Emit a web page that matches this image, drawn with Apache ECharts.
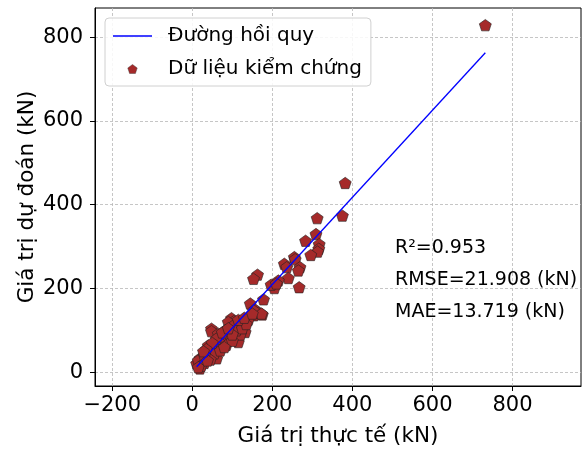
<!DOCTYPE html>
<html>
<head>
<meta charset="utf-8">
<script src="https://cdn.jsdelivr.net/npm/echarts@6/dist/echarts.min.js"></script>
<style>html,body{margin:0;padding:0;background:#fff;}#c{width:587px;height:452px;}</style>
</head>
<body>
<div id="c"></div>
<script>
// Data: actual (x) vs predicted (y), kN
var actualValues = [
  732, 382, 375, 312, 309, 283, 317, 316, 313, 296, 255, 257, 230, 236, 269, 265, 240, 215, 163, 153,
  267, 205, 197, 210, 178, 145, 158, 175, 154, 165, 153, 173,
  98, 104, 122, 111, 90, 124, 48, 82, 48, 65, 132, 107, 82, 115, 57, 40, 65, 32, 61, 19, 11, 19,
  100, 90, 75, 95, 120, 70, 85, 100, 60, 50, 45, 35, 28, 25, 20, 15, 30, 40, 55, 70, 80, 110, 125,
  140, 135, 100, 60, 50, 35, 45, 22, 15, 30, 38, 28, 75, 90, 115, 130, 150
];
var predictedValues = [
  829, 452, 374, 368, 330, 314, 306, 295, 288, 280, 275, 270, 259, 251, 251, 243, 225, 219, 233, 223,
  203, 201, 209, 212, 174, 164, 149, 138, 136, 142, 148, 140,
  129, 122, 118, 116, 120, 108, 104, 100, 98, 92, 96, 84, 80, 72, 72, 64, 56, 45, 33, 33, 21, 9,
  110, 95, 85, 88, 90, 70, 65, 75, 60, 55, 48, 38, 30, 25, 18, 28, 22, 35, 45, 52, 60, 100, 105,
  125, 115, 90, 80, 70, 55, 30, 15, 12, 40, 28, 50, 95, 105, 125, 130, 140
];
// Regression line endpoints
var lineX = [11, 732];
var lineY = [13, 763];
var xTicks = [-200, 0, 200, 400, 600, 800];
var yTicks = [0, 200, 400, 600, 800];
var metrics = ['R\u00B2=0.953', 'RMSE=21.908 (kN)', 'MAE=13.719 (kN)'];

var scatterData = actualValues.map(function (v, i) { return [v, predictedValues[i]]; });
var lineData = lineX.map(function (v, i) { return [v, lineY[i]]; });
var pentagon = 'path://M50 0 L97.55 34.55 L79.39 90.45 L20.61 90.45 L2.45 34.55 Z';
var lineIcon = 'path://M0 0 L40 0 L40 1.3 L0 1.3 Z';
var FONT = 'DejaVu Sans';

var chart = echarts.init(document.getElementById('c'), null, { renderer: 'canvas' });
chart.setOption({
  animation: false,
  backgroundColor: '#fff',
  textStyle: { fontFamily: FONT },
  grid: { left: 95, top: 8, width: 486, height: 380, show: true, borderColor: '#000', borderWidth: 1, containLabel: false },
  legend: {
    left: 105, top: 18, orient: 'vertical',
    padding: [7, 9, 6, 8], itemGap: 11, itemWidth: 39, itemHeight: 9, symbolKeepAspect: true,
    backgroundColor: 'rgba(255,255,255,0.85)', borderColor: '#d0d0d0', borderWidth: 1, borderRadius: 4,
    textStyle: { fontFamily: FONT, fontSize: 20, color: '#000', lineHeight: 22, padding: [0, 0, 0, 11] },
    data: [
      { name: 'Đường hồi quy', icon: lineIcon, itemStyle: { color: '#0000ff', borderWidth: 0 } },
      { name: 'Dữ liệu kiểm chứng', icon: pentagon, itemStyle: { color: '#a52a2a', borderColor: '#333', borderWidth: 0.4 } }
    ]
  },
  xAxis: {
    type: 'value', min: -243, max: 971,
    name: 'Giá trị thực tế (kN)', nameLocation: 'middle', nameGap: 39,
    nameTextStyle: { fontFamily: FONT, fontSize: 21.5, color: '#000' },
    axisLine: { show: true, onZero: false, lineStyle: { color: '#000', width: 1 } },
    axisTick: { show: true, inside: false, length: 5, customValues: xTicks, lineStyle: { color: '#000' } },
    axisLabel: { customValues: xTicks, margin: 9, fontFamily: FONT, fontSize: 21, color: '#000',
      formatter: function (v) { return String(v).replace('-', '\u2212'); } },
    splitLine: { show: true, lineStyle: { color: '#b8b8b8', type: [3, 2], width: 0.8 } }
  },
  yAxis: {
    type: 'value', min: -33, max: 870,
    name: 'Giá trị dự đoán (kN)', nameLocation: 'middle', nameGap: 57, nameMoveOverlap: false,
    nameTextStyle: { fontFamily: FONT, fontSize: 21.5, color: '#000' },
    axisLine: { show: true, onZero: false, lineStyle: { color: '#000', width: 1 } },
    axisTick: { show: true, inside: false, length: 5, customValues: yTicks, lineStyle: { color: '#000' } },
    axisLabel: { customValues: yTicks, margin: 12, fontFamily: FONT, fontSize: 21, color: '#000' },
    splitLine: { show: true, lineStyle: { color: '#b8b8b8', type: [3, 2], width: 0.8 } }
  },
  series: [
    {
      name: 'Dữ liệu kiểm chứng', type: 'scatter', data: scatterData,
      symbol: pentagon, symbolSize: 12, symbolKeepAspect: true, z: 2,
      itemStyle: { color: '#a52a2a', borderColor: '#222', borderWidth: 0.6, opacity: 1 }
    },
    {
      name: 'Đường hồi quy', type: 'line', data: lineData, symbol: 'none', z: 3,
      lineStyle: { color: '#0000ff', width: 1.3 }, itemStyle: { color: '#0000ff' }
    }
  ],
  graphic: metrics.map(function (t, i) {
    return { type: 'text', left: 395, top: 239 + i * 32, z: 10,
      style: { text: t, fontFamily: FONT, fontSize: 19, fill: '#000' } };
  })
});
</script>
</body>
</html>
